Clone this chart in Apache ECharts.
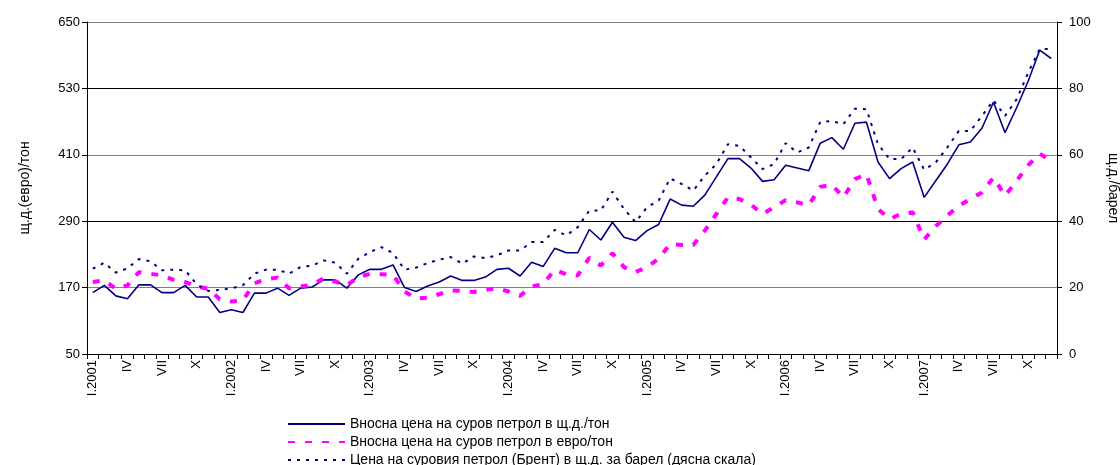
<!DOCTYPE html>
<html>
<head>
<meta charset="utf-8">
<script src="https://cdn.jsdelivr.net/npm/echarts@6/dist/echarts.min.js"></script>
<style>
  html, body { margin: 0; padding: 0; background: #fff; }
  #chart { width: 1120px; height: 465px; }
</style>
</head>
<body>
<div id="chart"></div>
<script>
// месеци и години
const years = [2001, 2002, 2003, 2004, 2005, 2006, 2007];
const months = ['I', 'II', 'III', 'IV', 'V', 'VI', 'VII', 'VIII', 'IX', 'X', 'XI', 'XII'];

// Вносна цена в щ.д./тон
const usdPerTon = [
  161, 174, 155, 150, 175, 175, 161, 161, 174, 153, 153, 125,
  130, 125, 160, 160, 169, 156, 169, 171, 184, 184, 169, 193,
  203, 203, 211, 170, 163, 173, 180, 191, 183, 183, 189, 203,
  205, 191, 216, 208, 241, 233, 233, 275, 256, 288, 261, 255,
  273, 284, 330, 319, 317, 337, 370, 403, 403, 386, 362, 365,
  391, 386, 381, 431, 441, 420, 467, 469, 397, 367, 385, 397,
  333, 363, 393, 428, 433, 458, 505, 450, 495, 543, 599, 584
];

// Вносна цена в евро/тон
const eurPerTon = [
  180, 183, 168, 174, 198, 195, 192, 184, 180, 172, 168, 149,
  145, 147, 178, 185, 188, 169, 172, 175, 187, 181, 174, 189,
  195, 194, 193, 163, 150, 152, 158, 165, 164, 162, 166, 169,
  163, 155, 172, 176, 202, 194, 192, 224, 210, 232, 207, 198,
  207, 222, 249, 247, 247, 273, 303, 333, 330, 320, 303, 315,
  328, 324, 319, 352, 356, 333, 366, 375, 312, 294, 303, 306,
  257, 281, 300, 318, 330, 342, 369, 336, 363, 391, 412, 399
];

// Брент, щ.д./барел (дясна скала)
const brent = [
  25.7, 27.5, 24.5, 25.8, 28.6, 27.9, 25.2, 25.4, 25.2, 21.0, 19.0, 19.3,
  19.8, 20.7, 24.2, 25.4, 25.4, 24.2, 26.2, 26.6, 28.2, 27.5, 24.2, 28.7,
  30.7, 32.2, 30.4, 25.4, 26.0, 27.4, 28.4, 29.2, 27.2, 29.4, 28.9, 29.7,
  31.2, 31.2, 33.7, 33.7, 37.4, 35.7, 38.2, 43.2, 43.2, 48.9, 43.7, 39.7,
  44.2, 46.2, 52.9, 51.2, 49.2, 53.7, 57.2, 63.2, 62.7, 59.2, 55.7, 57.2,
  63.5, 60.7, 62.2, 69.9, 70.2, 69.2, 73.9, 73.7, 63.2, 58.7, 58.7, 62.2,
  55.5, 57.7, 62.2, 67.2, 67.2, 71.7, 76.4, 71.7, 76.7, 84.7, 91.9, 91.9
];

const seriesNames = [
  'Вносна цена на суров петрол в щ.д./тон',
  'Вносна цена на суров петрол в евро/тон',
  'Цена на суровия петрол (Брент) в щ.д. за барел (дясна скала)'
];

let categories = [];
years.forEach(y => {
  months.forEach((m, i) => {
    categories.push(i === 0 ? m + '.' + y : m);
  });
});

const font = "'Liberation Sans', Arial, sans-serif";

// една легенда на ред, за да не се пренасят
let legends = seriesNames.map((name, i) => ({
  orient: 'vertical',
  left: 287,
  top: 417 + i * 18,
  padding: 0,
  itemWidth: 57,
  itemHeight: 14,
  itemStyle: { opacity: 0 },
  textStyle: { fontSize: 14, color: '#000', fontFamily: font },
  data: [name]
}));

let option = {
  animation: false,
  textStyle: { fontFamily: font, color: '#000' },
  grid: { left: 87, right: 63, top: 22, bottom: 111, outerBoundsMode: 'none' },
  legend: legends,
  xAxis: {
    type: 'category',
    data: categories,
    boundaryGap: true,
    axisLine: { lineStyle: { color: '#000', width: 1 } },
    axisTick: { show: true, interval: 0, length: 5, lineStyle: { color: '#000' } },
    axisLabel: { interval: 2, rotate: 90, fontSize: 13, color: '#000', margin: 6, fontFamily: font },
    splitLine: { show: false }
  },
  yAxis: [
    {
      type: 'value',
      min: 50,
      max: 650,
      interval: 120,
      name: 'щ.д.(евро)/тон',
      nameLocation: 'middle',
      nameRotate: 90,
      nameGap: 55,
      nameTextStyle: { fontSize: 14, color: '#000', fontFamily: font },
      axisLine: { show: true, lineStyle: { color: '#000' } },
      axisTick: { show: true, length: 5, lineStyle: { color: '#000' } },
      axisLabel: { fontSize: 13, color: '#000', margin: 7, fontFamily: font },
      splitLine: { show: true, lineStyle: { color: ['#000', '#808080'], width: 1 } }
    },
    {
      type: 'value',
      min: 0,
      max: 100,
      interval: 20,
      position: 'right',
      name: 'щ.д./барел',
      nameLocation: 'middle',
      nameRotate: -90,
      nameGap: 49,
      nameTextStyle: { fontSize: 14, color: '#000', fontFamily: font },
      axisLine: { show: true, lineStyle: { color: '#000' } },
      axisTick: { show: true, length: 5, lineStyle: { color: '#000' } },
      axisLabel: { fontSize: 13, color: '#000', margin: 12, fontFamily: font },
      splitLine: { show: false }
    }
  ],
  series: [
    {
      name: seriesNames[0],
      type: 'line',
      data: usdPerTon,
      yAxisIndex: 0,
      symbol: 'none',
      lineStyle: { color: '#000080', width: 1.6 },
      itemStyle: { color: '#000080' }
    },
    {
      name: seriesNames[1],
      type: 'line',
      data: eurPerTon,
      yAxisIndex: 0,
      symbol: 'none',
      lineStyle: { color: '#ff00ff', width: 4, type: [7, 10] },
      itemStyle: { color: '#ff00ff' }
    },
    {
      name: seriesNames[2],
      type: 'line',
      data: brent,
      yAxisIndex: 1,
      symbol: 'none',
      lineStyle: { color: '#000080', width: 2, type: [3, 6] },
      itemStyle: { color: '#000080' }
    }
  ]
};

var myChart = echarts.init(document.getElementById('chart'));
myChart.setOption(option);
</script>
</body>
</html>
